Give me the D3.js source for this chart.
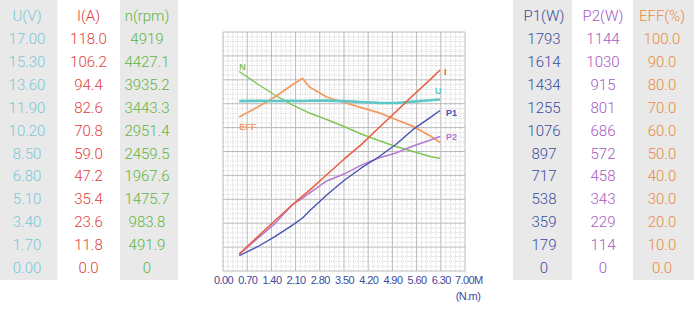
<!DOCTYPE html>
<html>
<head>
<meta charset="utf-8">
<script src="https://cdn.jsdelivr.net/npm/d3@7"></script>
<style>
  html, body { margin: 0; padding: 0; background: #ffffff; }
  svg { display: block; }
</style>
</head>
<body>
<svg id="chart" width="694" height="311"></svg>
<script>
// ---------- data ----------
const torque = [0.47, 1.0, 1.5, 2.0, 2.3, 2.5, 3.0, 3.5, 4.0, 4.5, 5.0, 5.5, 6.0, 6.28];
const voltage = [12.08, 12.10, 12.09, 12.11, 12.09, 12.11, 12.12, 12.08, 12.02, 11.96, 11.95, 12.05, 12.15, 12.20];
const current = [8.4, 16.9, 24.8, 32.6, 37.0, 39.8, 47.5, 55.2, 62.4, 70.6, 78.6, 86.8, 94.6, 99.2];
const speed = [4106, 3849, 3622, 3417, 3314, 3252, 3118, 2974, 2820, 2686, 2562, 2460, 2357, 2315];
const inputPower = [116, 182, 258, 342, 398, 450, 570, 679, 773, 855, 949, 1062, 1152, 1204];
const outputPower = [81, 156, 227, 316, 349, 373, 431, 464, 507, 541, 565, 598, 627, 644];
const efficiency = [64.4, 68.6, 72.8, 77.8, 80.6, 77.0, 72.8, 70.5, 68.4, 66.3, 63.4, 60.5, 56.5, 53.8];

const xTicks = [0.00, 0.70, 1.40, 2.10, 2.80, 3.50, 4.20, 4.90, 5.60, 6.30, 7.00];
const uTicks = ["17.00","15.30","13.60","11.90","10.20","8.50","6.80","5.10","3.40","1.70","0.00"];
const iTicks = ["118.0","106.2","94.4","82.6","70.8","59.0","47.2","35.4","23.6","11.8","0.0"];
const nTicks = ["4919","4427.1","3935.2","3443.3","2951.4","2459.5","1967.6","1475.7","983.8","491.9","0"];
const p1Ticks = ["1793","1614","1434","1255","1076","897","717","538","359","179","0"];
const p2Ticks = ["1144","1030","915","801","686","572","458","343","229","114","0"];
const effTicks = ["100.0","90.0","80.0","70.0","60.0","50.0","40.0","30.0","20.0","10.0","0.0"];

// ---------- layout ----------
const svg = d3.select("#chart");
const plot = { left: 223, right: 465, top: 32, bottom: 271 };
const x = d3.scaleLinear().domain([0, 7]).range([plot.left, plot.right]);
const gridY = d3.scaleLinear().domain([0, 10]).range([plot.bottom, plot.top]);

const colors = {
  U: "#7cc7d6", I: "#e0403c", N: "#62b63c",
  P1: "#3b4ca0", P2: "#a65abf", EFF: "#ea8a3e"
};
const lineColors = {
  U: "#5ec8c9", I: "#ea5a3e", N: "#80c656",
  P1: "#4852b4", P2: "#b47ad2", EFF: "#f39c62"
};

// ---------- side tables ----------
const tableFont = "Roboto, 'Liberation Sans', Arial, sans-serif";
const rowY = d3.scaleLinear().domain([0, 10]).range([39, 268]);

function drawTable(cols) {
  cols.forEach(c => {
    if (c.bg) {
      svg.append("rect").attr("x", c.x0).attr("y", 0)
        .attr("width", c.x1 - c.x0).attr("height", 280)
        .attr("fill", "#e9e9e9");
    }
  });
  cols.forEach(c => {
    const cx = (c.cx);
    svg.append("text").attr("x", cx).attr("y", 16)
      .attr("text-anchor", "middle").attr("dominant-baseline", "central")
      .attr("font-family", tableFont).attr("font-weight", 300)
      .attr("font-size", 15).attr("fill", c.color).text(c.title);
    svg.selectAll(null).data(c.ticks).enter().append("text")
      .attr("x", cx).attr("y", (d, i) => rowY(i))
      .attr("text-anchor", "middle").attr("dominant-baseline", "central")
      .attr("font-family", tableFont).attr("font-weight", 300)
      .attr("font-size", 15).attr("fill", c.color).text(d => d);
  });
}

drawTable([
  { title: "U(V)", ticks: uTicks, color: colors.U, bg: true, x0: 0, x1: 57.5, cx: 27 },
  { title: "I(A)", ticks: iTicks, color: colors.I, bg: false, x0: 57.5, x1: 120, cx: 88.5 },
  { title: "n(rpm)", ticks: nTicks, color: colors.N, bg: true, x0: 120, x1: 178, cx: 147 }
]);
drawTable([
  { title: "P1(W)", ticks: p1Ticks, color: colors.P1, bg: true, x0: 513, x1: 572, cx: 544 },
  { title: "P2(W)", ticks: p2Ticks, color: colors.P2, bg: false, x0: 572, x1: 633, cx: 603 },
  { title: "EFF(%)", ticks: effTicks, color: colors.EFF, bg: true, x0: 633, x1: 694, cx: 662 }
]);

// ---------- grid ----------
const g = svg.append("g");
g.append("rect").attr("x", plot.left).attr("y", plot.top)
  .attr("width", plot.right - plot.left).attr("height", plot.bottom - plot.top)
  .attr("fill", "#ffffff");

const minorX = d3.range(0, 50).filter(i => i % 5 !== 0).map(i => i * 0.14);
const minorY = d3.range(0, 50).filter(i => i % 5 !== 0).map(i => i * 0.2);
g.selectAll(null).data(minorX).enter().append("line")
  .attr("x1", d => x(d)).attr("x2", d => x(d))
  .attr("y1", plot.top).attr("y2", plot.bottom)
  .attr("stroke", "#c4c4c4").attr("stroke-width", 0.8).attr("stroke-dasharray", "1,1.4");
g.selectAll(null).data(minorY).enter().append("line")
  .attr("y1", d => gridY(d)).attr("y2", d => gridY(d))
  .attr("x1", plot.left).attr("x2", plot.right)
  .attr("stroke", "#c4c4c4").attr("stroke-width", 0.8).attr("stroke-dasharray", "1,1.4");
g.selectAll(null).data(xTicks).enter().append("line")
  .attr("x1", d => x(d)).attr("x2", d => x(d))
  .attr("y1", plot.top).attr("y2", plot.bottom)
  .attr("stroke", "#b2b2b2").attr("stroke-width", 0.9);
g.selectAll(null).data(d3.range(0, 11)).enter().append("line")
  .attr("y1", d => gridY(d)).attr("y2", d => gridY(d))
  .attr("x1", plot.left).attr("x2", plot.right)
  .attr("stroke", "#b2b2b2").attr("stroke-width", 0.9);

// ---------- x axis ----------
const axis = d3.axisBottom(x).tickValues(xTicks).tickSize(0)
  .tickFormat((d, i) => d3.format(".2f")(d) + (i === xTicks.length - 1 ? "M" : ""));
const ax = svg.append("g").attr("transform", `translate(0,${plot.bottom})`).call(axis);
ax.select(".domain").remove();
ax.selectAll("text")
  .attr("fill", "#3d4a9c").attr("font-size", 11)
  .attr("font-family", "'Liberation Sans', Arial, sans-serif")
  .attr("letter-spacing", -0.6).attr("dy", "0.95em");
ax.selectAll(".tick").filter((d, i) => i === xTicks.length - 1).select("text")
  .attr("text-anchor", "start").attr("dx", -10.5);
svg.append("text").attr("x", x(7) + 3).attr("y", 300)
  .attr("text-anchor", "middle").attr("fill", "#3d4a9c").attr("font-size", 11)
  .attr("letter-spacing", -0.6)
  .attr("font-family", "'Liberation Sans', Arial, sans-serif").text("(N.m)");

// ---------- curves ----------
const series = [
  { key: "N", values: speed, max: 4919, width: 1.4 },
  { key: "EFF", values: efficiency, max: 100, width: 1.8 },
  { key: "U", values: voltage, max: 17, width: 2.6 },
  { key: "P2", values: outputPower, max: 1144, width: 1.5 },
  { key: "P1", values: inputPower, max: 1793, width: 1.4 },
  { key: "I", values: current, max: 118, width: 1.5 }
];
series.forEach(s => {
  s.y = d3.scaleLinear().domain([0, s.max]).range([plot.bottom, plot.top]);
  const line = d3.line().x((d, i) => x(torque[i])).y(d => s.y(d));
  svg.append("path").datum(s.values).attr("d", line)
    .attr("fill", "none").attr("stroke", lineColors[s.key])
    .attr("stroke-width", s.width).attr("stroke-linejoin", "round");
});

// ---------- curve labels ----------
const labelSpec = {
  N: { at: "first", dx: 0, dy: -2, text: "N" },
  EFF: { at: "first", dx: 0, dy: 13, text: "EFF" },
  U: { at: "last", dx: -5, dy: -5, text: "U" },
  I: { at: "last", dx: 4, dy: 5, text: "I" },
  P1: { at: "last", dx: 6, dy: 5, text: "P1" },
  P2: { at: "last", dx: 6, dy: 4, text: "P2" }
};
series.forEach(s => {
  const spec = labelSpec[s.key];
  const idx = spec.at === "first" ? 0 : torque.length - 1;
  svg.append("text")
    .attr("x", x(torque[idx]) + spec.dx)
    .attr("y", s.y(s.values[idx]) + spec.dy)
    .attr("font-family", "'Liberation Sans', Arial, sans-serif")
    .attr("font-weight", "bold").attr("font-size", 9)
    .attr("fill", lineColors[s.key]).text(spec.text);
});
</script>
</body>
</html>
